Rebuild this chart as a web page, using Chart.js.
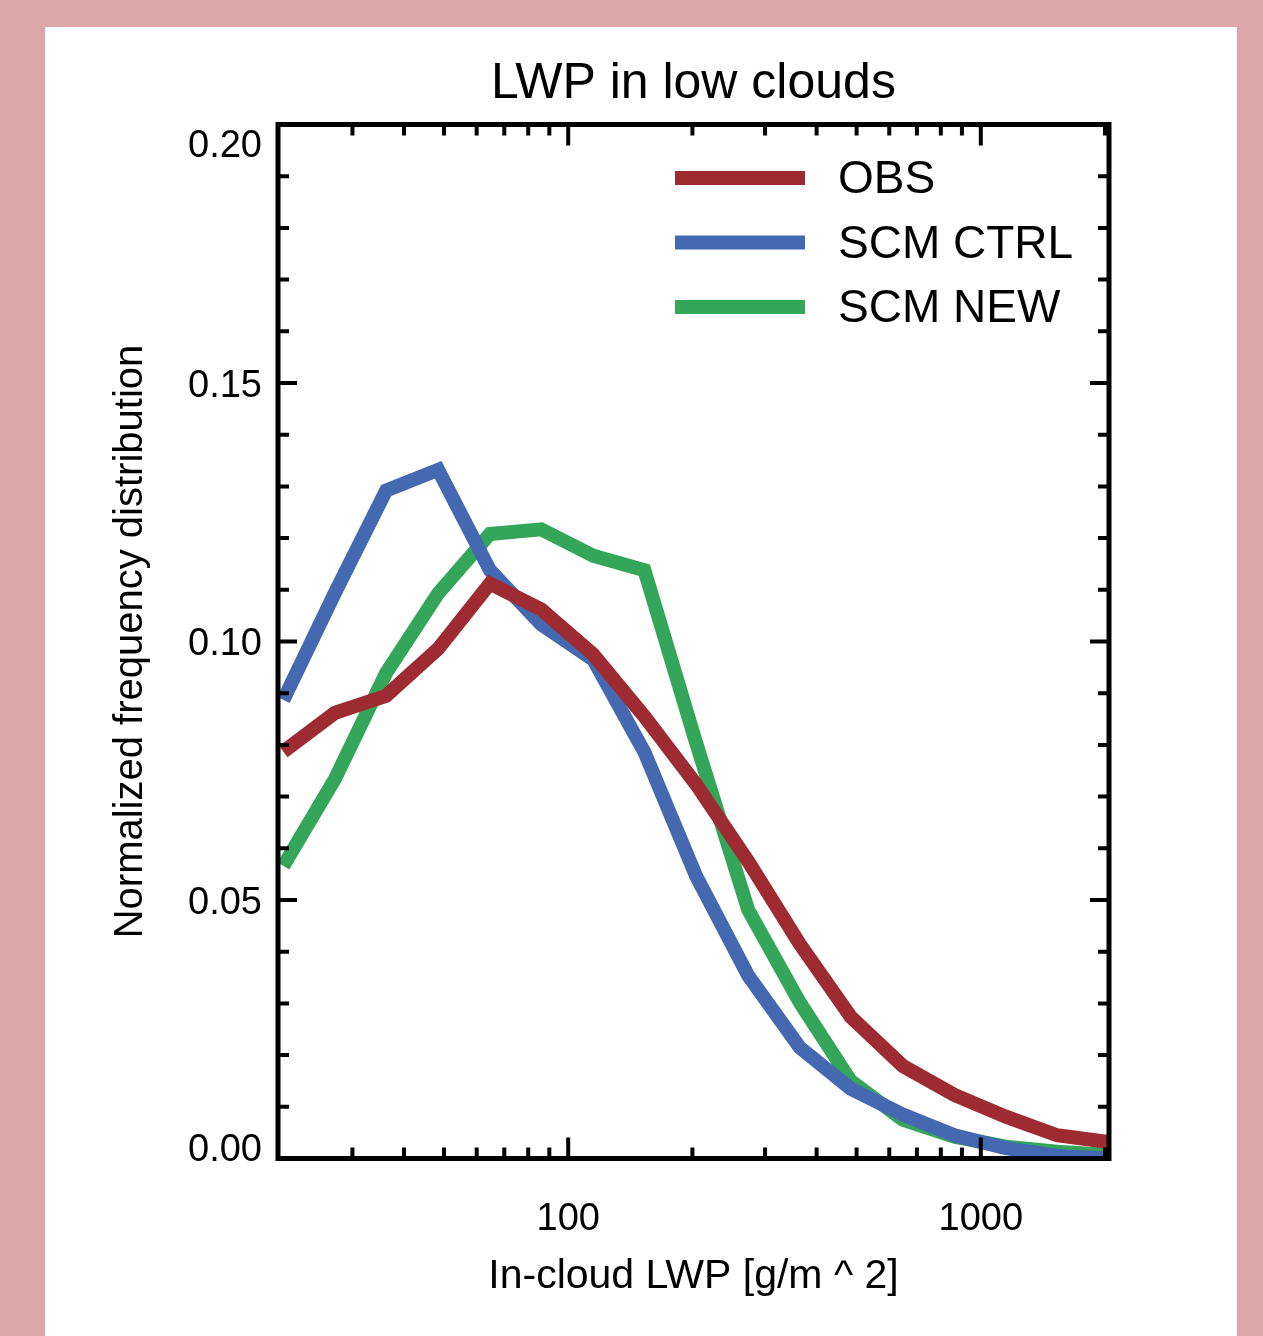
<!DOCTYPE html>
<html>
<head>
<meta charset="utf-8">
<title>LWP in low clouds</title>
<script src="https://cdn.jsdelivr.net/npm/chart.js@4.4.1/dist/chart.umd.min.js"></script>
<style>
  html, body { margin: 0; padding: 0; }
  body { background: #dda7a9; width: 1263px; height: 1336px; overflow: hidden; position: relative; }
  #panel { position: absolute; left: 45px; top: 27px; width: 1192px; height: 1309px; background: #fff; }
  canvas { display: block; }
</style>
</head>
<body>
<div id="panel"><canvas id="lwpChart" width="1192" height="1309"></canvas></div>
<script>
// LWP bin centres [g/m^2] (log spaced)
const lwpBins = [20.4, 27.2, 36.2, 48.4, 64.6, 86.0, 115, 153, 204, 273, 364, 484, 647, 863, 1150, 1530, 2040];

// normalized frequency
const obsFreq  = [0.0787, 0.0862, 0.0895, 0.0986, 0.1112, 0.1062, 0.0975, 0.0855, 0.0724, 0.0575, 0.0415, 0.0274, 0.0179, 0.0123, 0.0081, 0.0045, 0.0032];
const ctrlFreq = [0.0887, 0.1094, 0.1292, 0.1332, 0.1138, 0.1033, 0.0965, 0.0786, 0.0547, 0.0354, 0.0215, 0.0135, 0.0085, 0.0045, 0.0020, 0.0005, 0.0000];
const newFreq  = [0.0566, 0.0734, 0.0939, 0.1093, 0.1208, 0.1217, 0.1166, 0.1138, 0.0805, 0.0481, 0.0302, 0.0150, 0.0075, 0.0042, 0.0023, 0.0013, 0.0007];

// ticks
const xLabelTicks = [100, 1000];
const xMinorTicks = [30, 40, 50, 60, 70, 80, 90, 200, 300, 400, 500, 600, 700, 800, 900, 2000];
const yLabelTicks = [0, 0.05, 0.10, 0.15, 0.20];
const yMinorTicks = [0.01, 0.02, 0.03, 0.04, 0.06, 0.07, 0.08, 0.09, 0.11, 0.12, 0.13, 0.14, 0.16, 0.17, 0.18, 0.19];

const RED = '#9e2b31', BLUE = '#4469b1', GREEN = '#34a65a';
const FONT = '"Liberation Sans", Arial, Helvetica, sans-serif';

const toPoints = arr => lwpBins.map((x, i) => ({ x, y: arr[i] }));

// IDL-style frame: box, inward ticks on all four sides, y labels, title, legend
const idlFrame = {
  id: 'idlFrame',
  afterDatasetsDraw(chart) {
    const { ctx, chartArea: a, scales: { x, y } } = chart;
    ctx.save();
    ctx.strokeStyle = '#000';
    ctx.lineWidth = 4;
    ctx.beginPath();
    const seg = (x1, y1, x2, y2) => { ctx.moveTo(x1, y1); ctx.lineTo(x2, y2); };
    xMinorTicks.forEach(v => {
      const px = x.getPixelForValue(v);
      seg(px, a.bottom, px, a.bottom - 11);
      seg(px, a.top, px, a.top + 11);
    });
    xLabelTicks.forEach(v => {
      const px = x.getPixelForValue(v);
      seg(px, a.bottom, px, a.bottom - 21);
      seg(px, a.top, px, a.top + 21);
    });
    yMinorTicks.forEach(v => {
      const py = y.getPixelForValue(v);
      seg(a.left, py, a.left + 11, py);
      seg(a.right, py, a.right - 11, py);
    });
    yLabelTicks.forEach(v => {
      const py = y.getPixelForValue(v);
      seg(a.left, py, a.left + 19, py);
      seg(a.right, py, a.right - 19, py);
    });
    ctx.stroke();
    ctx.lineWidth = 5;
    ctx.strokeRect(a.left, a.top, a.right - a.left, a.bottom - a.top);

    // y tick labels, kept inside the axis span like IDL does
    ctx.fillStyle = '#000';
    ctx.font = `38px ${FONT}`;
    ctx.textAlign = 'right';
    ctx.textBaseline = 'alphabetic';
    yLabelTicks.forEach(v => {
      const py = y.getPixelForValue(v);
      let base = py + 13.6;
      base = Math.max(base, a.top + 32);
      base = Math.min(base, a.bottom + 2);
      ctx.fillText(v.toFixed(2), a.left - 16, base);
    });

    // title
    ctx.textAlign = 'center';
    ctx.font = `50px ${FONT}`;
    ctx.fillText('LWP in low clouds', (a.left + a.right) / 2, 71);

    // legend
    ctx.textAlign = 'left';
    ctx.font = `46px ${FONT}`;
    chart.data.datasets.forEach((ds, i) => {
      const ly = 151 + i * 64.5;
      ctx.fillStyle = ds.borderColor;
      ctx.fillRect(630, ly - 7, 130, 14);
      ctx.fillStyle = '#000';
      ctx.fillText(ds.label, 793, ly + 15);
    });
    ctx.restore();
  }
};

new Chart(document.getElementById('lwpChart'), {
  type: 'line',
  data: {
    datasets: [
      { label: 'OBS', data: toPoints(obsFreq), borderColor: RED, backgroundColor: RED },
      { label: 'SCM CTRL', data: toPoints(ctrlFreq), borderColor: BLUE, backgroundColor: BLUE },
      { label: 'SCM NEW', data: toPoints(newFreq), borderColor: GREEN, backgroundColor: GREEN }
    ]
  },
  options: {
    responsive: false,
    animation: false,
    devicePixelRatio: 1,
    layout: { padding: { left: 58, right: 128, top: 97.5, bottom: 33 } },
    datasets: { line: { clip: 0 } },
    elements: {
      point: { radius: 0, hoverRadius: 0 },
      line: { borderWidth: 14, tension: 0, fill: false, borderJoinStyle: 'miter' }
    },
    plugins: {
      legend: { display: false },
      title: { display: false },
      tooltip: { enabled: false }
    },
    scales: {
      x: {
        type: 'logarithmic',
        min: 19.8,
        max: 2045,
        grid: { display: false },
        border: { display: false },
        afterBuildTicks: s => { s.ticks = xLabelTicks.map(v => ({ value: v })); },
        afterFit: s => { s.height = 144.5; },
        ticks: {
          padding: 30, color: '#000', autoSkip: false, maxRotation: 0,
          font: { family: FONT, size: 38 },
          callback: v => String(v)
        },
        title: {
          display: true, text: 'In-cloud LWP [g/m ^ 2]', color: '#000',
          font: { family: FONT, size: 41 }, padding: { top: 4, bottom: 2 }
        }
      },
      y: {
        min: 0,
        max: 0.2,
        grid: { display: false },
        border: { display: false },
        ticks: { display: false, stepSize: 0.05 },
        afterFit: s => { s.width = 175; },
        title: {
          display: true, text: 'Normalized frequency distribution', color: '#000',
          font: { family: FONT, size: 40 }, padding: { top: 4, bottom: 4 }
        }
      }
    }
  },
  plugins: [idlFrame]
});
</script>
</body>
</html>
